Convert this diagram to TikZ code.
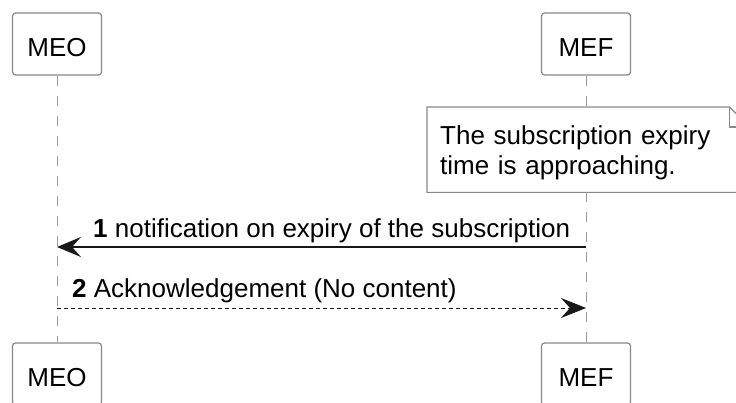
\documentclass[tikz,border=0pt]{standalone}
\usepackage{fontspec}
\setmainfont{Liberation Sans}
\usetikzlibrary{arrows.meta}
\definecolor{framegray}{HTML}{888888}
\definecolor{linegray}{HTML}{9A9A9A}
\definecolor{inkdark}{HTML}{181818}

\begin{document}
\begin{tikzpicture}[x=1pt,y=-1pt,
    font=\fontsize{26}{30}\selectfont,
    partbox/.style={draw=framegray,line width=1.2pt,rounded corners=3pt,fill=white,
      minimum width=89pt,minimum height=62pt,inner sep=0pt,text height=25pt,text depth=0pt},
    notebox/.style={inner xsep=13pt,inner ysep=0pt,text width=296pt,align=left,minimum height=85pt,
      execute at begin node={\rule{0pt}{25pt}}},
    noteline/.style={draw=framegray,line width=1.2pt},
    lifeline/.style={draw=linegray,line width=1pt,dash pattern=on 10pt off 10pt},
    callmsg/.style={draw=inkdark,line width=1.6pt,-{Stealth[length=24pt,width=20pt,inset=9pt]}},
    replymsg/.style={draw=inkdark,line width=1pt,dash pattern=on 4pt off 3pt,-{Stealth[length=25pt,width=20pt,inset=9pt]}},
    msglabel/.style={anchor=base west,inner sep=0pt}
  ]
  \useasboundingbox (0,0) rectangle (736,403);
  \clip (0,0) rectangle (736,403);

  % participants
  \node[partbox] (meoTop) at (57,44) {MEO};
  \node[partbox] (mefTop) at (586,44) {MEF};
  \node[partbox] (meoBot) at (57,374) {MEO};
  \node[partbox] (mefBot) at (586,374) {MEF};

  % note
  \node[notebox,anchor=north west] (note) at (427,107) {The subscription expiry\\time is approaching.};
  \draw[noteline] (note.north west) -- ([xshift=-20pt]note.north east)
    -- ([yshift=-20pt]note.north east) -- (note.south east) -- (note.south west) -- cycle;
  \draw[noteline] ([xshift=-20pt]note.north east) |- ([yshift=-20pt]note.north east);

  \draw[lifeline] (meoTop.south) -- (meoBot.north);
  \draw[lifeline] (mefTop.south) -- (mefTop |- note.north);
  \draw[lifeline] (mefTop |- note.south) -- (mefBot.north);

  % messages
  \coordinate (stepOne) at (0,247);
  \coordinate (stepTwo) at (0,308);
  \draw[callmsg] (mefTop |- stepOne) -- (meoTop |- stepOne);
  \draw[replymsg] (meoTop |- stepTwo) -- (mefTop |- stepTwo);
  \node[msglabel] (msgOne) at (93,238) {\textbf{1} notification on expiry of the subscription};
  \node[msglabel] (msgTwo) at (72,298) {\textbf{2} Acknowledgement (No content)};
\end{tikzpicture}
\end{document}
